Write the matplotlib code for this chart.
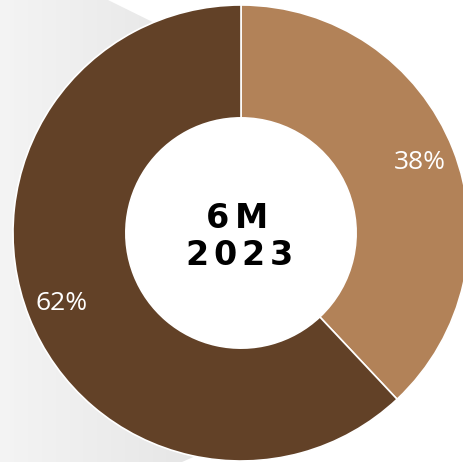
import numpy as np
import matplotlib.pyplot as plt
from matplotlib.patches import Polygon, Circle
from matplotlib.colors import LinearSegmentedColormap

# share of the period, clockwise from 12 o'clock
shares = [38, 62]
share_labels = ["38%", "62%"]
colors = ["#b28258", "#624127"]
title_lines = ["6M", "2023"]

W, H = 464, 462
cx, cy, R = 241, 229, 228
hole = R * 0.505

fig = plt.figure(figsize=(W / 100, H / 100), dpi=100)
ax = fig.add_axes([0, 0, 1, 1])

# soft grey panel behind the left half, horizontal gradient
panel = Polygon([(0, H), (108, H), (250, H - 70), (250, 30), (182, 0), (0, 0)],
                closed=True, facecolor="none", edgecolor="none")
ax.add_patch(panel)
grad = np.linspace(0, 1, 256)[None, :]
img = ax.imshow(grad, extent=(0, 250, 0, H), aspect="auto", zorder=0,
                cmap=LinearSegmentedColormap.from_list("g", ["#f4f4f4", "#e2e2e2"]))
img.set_clip_path(panel)

wedges, texts = ax.pie(shares, colors=colors, startangle=90, counterclock=False,
                       radius=R, center=(cx, cy), labels=share_labels, labeldistance=0.845,
                       wedgeprops=dict(width=R - hole, edgecolor="white", linewidth=1.2),
                       textprops=dict(color="white", fontsize=19, family="Open Sans",
                                      weight="normal", style="normal",
                                      ha="center", va="center"))
ax.add_patch(Circle((cx, cy), hole, facecolor="white", edgecolor="none", zorder=3))

ax.set_xlim(0, W)
ax.set_ylim(0, H)
ax.set_aspect("equal")
ax.axis("off")

# centre caption with wide letter spacing
rows = [(title_lines[0], [218, 252], H - 228),
        (title_lines[1], [197, 225, 253, 281], H - 265)]
for word, xs, y in rows:
    for ch, x in zip(word, xs):
        ax.text(x, y, ch, ha="center", va="baseline", fontsize=24,
                family="DejaVu Sans", weight="bold", color="black", zorder=4)

fig.savefig("out.png", dpi=100)
